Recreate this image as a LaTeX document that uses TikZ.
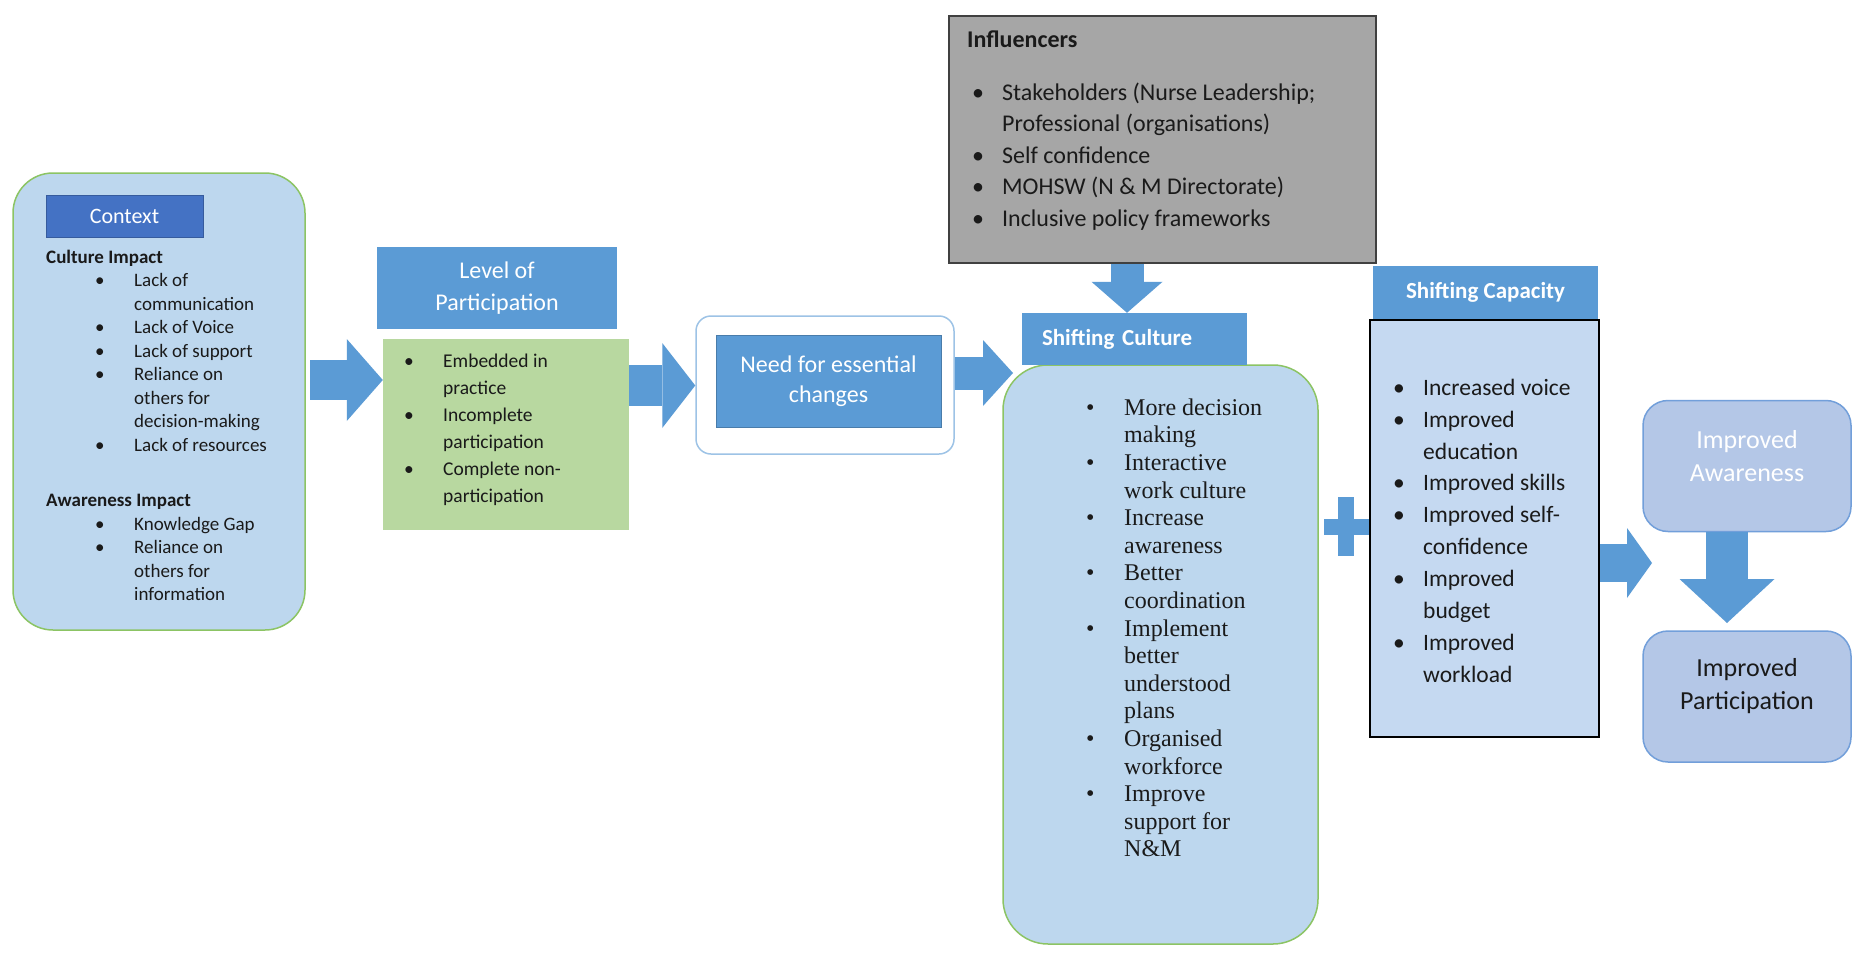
\documentclass[tikz,border=0pt]{standalone}
\usepackage{fontspec}
\setmainfont{Carlito}
\newfontfamily\serifface{Liberation Serif}
\usetikzlibrary{arrows.meta}

\definecolor{ctxblue}{RGB}{189,215,238}
\definecolor{ctxline}{RGB}{140,196,100}
\definecolor{hdrdark}{RGB}{68,114,196}
\definecolor{hdrblue}{RGB}{91,155,213}
\definecolor{partgreen}{RGB}{184,216,160}
\definecolor{needline}{RGB}{157,195,230}
\definecolor{inflgray}{RGB}{166,166,166}
\definecolor{capblue}{RGB}{197,217,241}
\definecolor{resblue}{RGB}{180,199,231}
\definecolor{resline}{RGB}{114,159,218}
\definecolor{txt}{RGB}{26,26,26}

% bullet line and its continuation
\newcommand{\bitem}[2][30pt]{\makebox[#1][l]{\textbullet}#2}
\newcommand{\bcont}[2][30pt]{\hspace*{#1}#2}
% first line strut: the list's top is 22pt above its first baseline
\newcommand{\topline}{\rule{0pt}{22pt}}

\tikzset{
  panel/.style={draw=ctxline, line width=1.5pt, fill=ctxblue, rounded corners=40pt, inner sep=0pt},
  hdr/.style={fill=hdrblue, text=white, inner sep=0pt, align=center},
  list/.style={anchor=north west, align=left, inner sep=0pt, text=txt, yshift=22pt},
  result/.style={draw=resline, line width=1.5pt, fill=resblue, rounded corners=25pt,
    minimum width=208pt, minimum height=131pt, inner sep=0pt},
  barrow/.style n args={3}{draw=hdrblue, line width=#1,
    -{Triangle[length=#2, width=#3, line width=0pt, fill=hdrblue]}}
}

\begin{document}
\begin{tikzpicture}[x=1pt,y=-1pt]
\path[fill=white, use as bounding box] (0,0) rectangle (1863,961);

% context
\node[panel, minimum width=292pt, minimum height=457pt] (ctx) at (159,401.5) {};
\node[fill=hdrdark, draw=hdrdark!80!black, text=white, minimum width=157pt, minimum height=42pt,
  inner sep=0pt, font=\fontsize{22}{26}\selectfont] (ctxhdr) at (124.5,216) {Context};
\node[list, font=\fontsize{19}{23.5}\selectfont] (ctxtext) at (46,263) {%
\topline\textbf{Culture Impact}\\
\hspace*{49pt}\bitem[39pt]{Lack of}\\
\hspace*{49pt}\bcont[39pt]{communication}\\
\hspace*{49pt}\bitem[39pt]{Lack of Voice}\\
\hspace*{49pt}\bitem[39pt]{Lack of support}\\
\hspace*{49pt}\bitem[39pt]{Reliance on}\\
\hspace*{49pt}\bcont[39pt]{others for}\\
\hspace*{49pt}\bcont[39pt]{decision-making}\\
\hspace*{49pt}\bitem[39pt]{Lack of resources}\\[32pt]
\textbf{Awareness Impact}\\
\hspace*{49pt}\bitem[39pt]{Knowledge Gap}\\
\hspace*{49pt}\bitem[39pt]{Reliance on}\\
\hspace*{49pt}\bcont[39pt]{others for}\\
\hspace*{49pt}\bcont[39pt]{information}};

% level of participation
\node[hdr, minimum width=240pt, minimum height=82pt, font=\fontsize{24}{32}\selectfont]
  (lvlhdr) at (497,288) {Level of\\Participation};
\node[fill=partgreen, minimum width=246pt, minimum height=191pt, inner sep=0pt] (lvl) at (506,434.5) {};
\node[list, font=\fontsize{19.5}{27}\selectfont] (lvltext) at (404,367) {%
\topline\bitem[39pt]{Embedded in}\\
\bcont[39pt]{practice}\\
\bitem[39pt]{Incomplete}\\
\bcont[39pt]{participation}\\
\bitem[39pt]{Complete non-}\\
\bcont[39pt]{participation}};

% need for changes
\node[draw=needline, line width=1.5pt, fill=white, rounded corners=15pt, minimum width=258pt,
  minimum height=138pt, inner sep=0pt] (needout) at (825,385) {};
\node[hdr, draw=hdrblue!80!black, minimum width=225pt, minimum height=92pt,
  font=\fontsize{24}{30}\selectfont] (need) at (828.5,381) {Need for essential\\changes};

% influencers
\node[fill=inflgray, draw=black!75, line width=2pt, minimum width=427pt, minimum height=247pt,
  inner sep=0pt] (infl) at (1162.5,139.5) {};
\node[list, font=\bfseries\fontsize{24}{30}\selectfont] (inflhead) at (967,47) {\topline Influencers};
\node[list, font=\fontsize{24}{31.5}\selectfont] (infltext) at (972,100) {%
\topline\bitem{Stakeholders (Nurse Leadership;}\\
\bcont{Professional (organisations)}\\
\bitem{Self confidence}\\
\bitem{MOHSW (N \& M Directorate)}\\
\bitem{Inclusive policy frameworks}};

% shifting culture
\node[panel, rounded corners=45pt, minimum width=315pt, minimum height=579pt] (cul) at (1160.5,654.5) {};
\node[hdr, minimum width=225pt, minimum height=52pt, text width=185pt, inner xsep=20pt, align=left,
  font=\bfseries\fontsize{23}{28}\selectfont] (culhdr) at (1134.5,339) {Shifting Culture};
\node[list, font=\serifface\fontsize{24}{27.6}\selectfont] (cultext) at (1086,415) {%
\topline\bitem[38pt]{More decision}\\
\bcont[38pt]{making}\\
\bitem[38pt]{Interactive}\\
\bcont[38pt]{work culture}\\
\bitem[38pt]{Increase}\\
\bcont[38pt]{awareness}\\
\bitem[38pt]{Better}\\
\bcont[38pt]{coordination}\\
\bitem[38pt]{Implement}\\
\bcont[38pt]{better}\\
\bcont[38pt]{understood}\\
\bcont[38pt]{plans}\\
\bitem[38pt]{Organised}\\
\bcont[38pt]{workforce}\\
\bitem[38pt]{Improve}\\
\bcont[38pt]{support for}\\
\bcont[38pt]{N\&M}};

% plus
\fill[hdrblue] (1338,497) rectangle (1354,556);
\fill[hdrblue] (1324,519) rectangle (1370,535);

% shifting capacity
\node[hdr, minimum width=225pt, minimum height=53pt, font=\bfseries\fontsize{23}{28}\selectfont]
  (caphdr) at (1485.5,292.5) {Shifting Capacity};
\node[fill=capblue, draw=black, line width=2pt, minimum width=229pt, minimum height=417pt,
  inner sep=0pt] (cap) at (1484.5,528.5) {};
\node[list, font=\fontsize{23.5}{31.9}\selectfont] (captext) at (1393,395) {%
\topline\bitem{Increased voice}\\
\bitem{Improved}\\
\bcont{education}\\
\bitem{Improved skills}\\
\bitem{Improved self-}\\
\bcont{confidence}\\
\bitem{Improved}\\
\bcont{budget}\\
\bitem{Improved}\\
\bcont{workload}};

% results
\node[result] (aware) at (1747,466) {};
\node[text=white, align=center, font=\fontsize{26}{33}\selectfont, yshift=10pt] (awaretext)
  at (aware.center) {Improved\\Awareness};
\node[result] (part) at (1747,696.5) {};
\node[text=txt, align=center, font=\fontsize{26}{33}\selectfont, yshift=10pt] (parttext)
  at (part.center) {Improved\\Participation};

% block arrows
\coordinate (a1) at (310,380);
\coordinate (a2) at (0,385.5);
\coordinate (a3) at (1013,373);
\coordinate (a4) at (1127,0);
\coordinate (a5) at (1652,563);
\coordinate (a6) at (1727,623);
\draw[barrow={40pt}{36pt}{82pt}] (a1) -- (a1 -| lvl.west);
\draw[barrow={41pt}{33pt}{85pt}] (lvl.east |- a2) -- (needout.west |- a2);
\draw[barrow={33pt}{30pt}{66pt}] (needout.east |- a3) -- (a3);
\draw[barrow={33pt}{31pt}{71pt}] (infl.south -| a4) -- (culhdr.north -| a4);
\draw[barrow={38pt}{25pt}{70pt}] (cap.east |- a5) -- (a5);
\draw[barrow={42pt}{44pt}{95pt}] (aware.south -| a6) -- (a6);
\end{tikzpicture}
\end{document}
